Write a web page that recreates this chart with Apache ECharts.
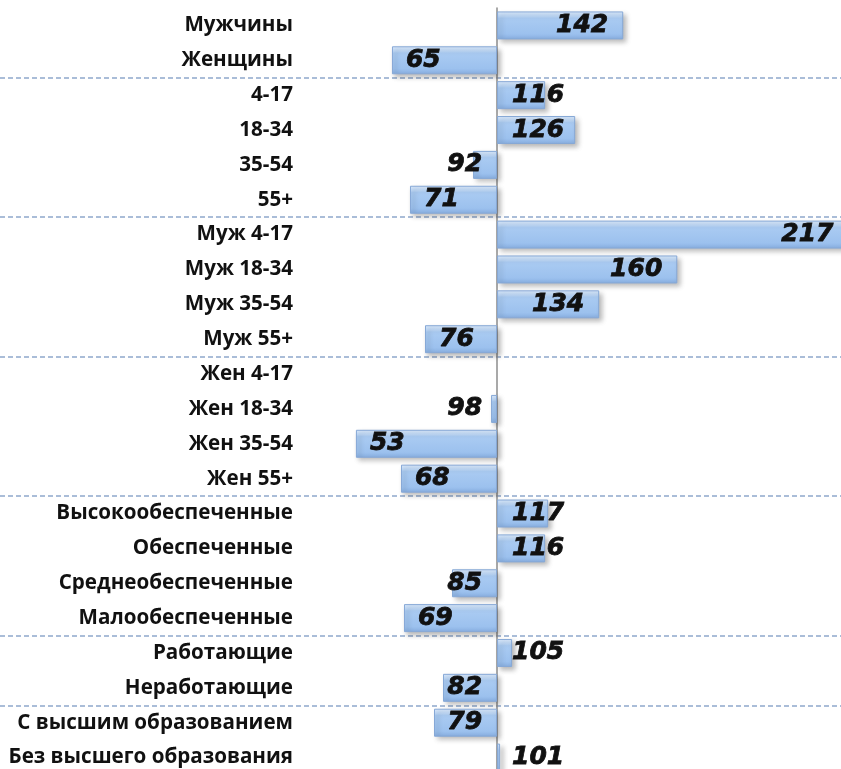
<!DOCTYPE html>
<html><head><meta charset="utf-8">
<script src="https://cdn.jsdelivr.net/npm/echarts@6/dist/echarts.min.js"></script>
<style>html,body{margin:0;padding:0;background:#fff}#c{width:841px;height:769px}</style>
</head><body><div id="c"></div>
<script>
// Groups of categories (separated by dashed lines)
const groupGender = ['Мужчины', 'Женщины'];
const groupAge = ['4-17', '18-34', '35-54', '55+'];
const groupMaleAge = ['Муж 4-17', 'Муж 18-34', 'Муж 35-54', 'Муж 55+'];
const groupFemaleAge = ['Жен 4-17', 'Жен 18-34', 'Жен 35-54', 'Жен 55+'];
const groupIncome = ['Высокообеспеченные', 'Обеспеченные', 'Среднеобеспеченные', 'Малообеспеченные'];
const groupWork = ['Работающие', 'Неработающие'];
const groupEdu = ['С высшим образованием', 'Без высшего образования'];

const valGender = [142, 65];
const valAge = [116, 126, 92, 71];
const valMaleAge = [217, 160, 134, 76];
const valFemaleAge = [null, 98, 53, 68];
const valIncome = [117, 116, 85, 69];
const valWork = [105, 82];
const valEdu = [79, 101];

const baseIndex = 100;

const groups = [groupGender, groupAge, groupMaleAge, groupFemaleAge, groupIncome, groupWork, groupEdu];
const groupValues = [valGender, valAge, valMaleAge, valFemaleAge, valIncome, valWork, valEdu];

const categories = [].concat(...groups);
const values = [].concat(...groupValues);
const separators = [];
let acc = 0;
groups.forEach((g, i) => { if (i > 0) separators.push(acc); acc += g.length; });

const labelFont = {
  fontFamily: 'DejaVu Sans', fontWeight: 'bold', fontStyle: 'italic', fontSize: 25, color: '#111',
  textBorderColor: '#111', textBorderWidth: 0.8, padding: [4, 0, 0, 0]
};

const barData = values.map(v => {
  if (v === null) return { value: null, label: { show: false } };
  const d = v - baseIndex;
  let pos, dist;
  if (d >= 0) { pos = d > 26 ? 'insideRight' : 'insideLeft'; dist = 15; }
  else { pos = d < -21 ? 'insideLeft' : 'insideRight'; dist = d < -21 ? 14 : 15; }
  return { value: d, label: { show: true, position: pos, distance: dist, formatter: String(v) } };
});

const chart = echarts.init(document.getElementById('c'));
chart.setOption({
  animation: false,
  backgroundColor: '#ffffff',
  grid: { left: 0, right: -12, top: 8, bottom: -6, containLabel: false, outerBoundsMode: 'none' },
  xAxis: {
    type: 'value', min: -165.5, max: 118.5,
    axisLabel: { show: false }, axisLine: { show: false }, axisTick: { show: false }, splitLine: { show: false }
  },
  yAxis: {
    type: 'category', inverse: true, data: categories,
    axisTick: { show: false },
    axisLine: { show: true, onZero: true, lineStyle: { color: '#8c8c8c', width: 1.5 } },
    axisLabel: { fontFamily: 'Open Sans', fontWeight: 'bold', fontSize: 20.6, color: '#111', margin: -293, interval: 0, align: 'right', padding: [6, 0, 0, 0] },
    splitLine: {
      show: true,
      interval: (idx) => separators.includes(idx),
      lineStyle: { type: [5, 3], color: '#8fa8cc', width: 1.5 }
    }
  },
  series: [{
    type: 'bar',
    data: barData,
    barWidth: 28,
    itemStyle: {
      color: new echarts.graphic.LinearGradient(0, 0, 0, 1, [
        { offset: 0, color: '#dcebfc' },
        { offset: 0.18, color: '#bcd7f7' },
        { offset: 0.24, color: '#aacbf2' },
        { offset: 0.8, color: '#9cc1ee' },
        { offset: 1, color: '#88aee0' }
      ]),
      borderColor: '#86a8d6', borderWidth: 1,
      shadowColor: 'rgba(0,0,0,0.28)', shadowBlur: 5, shadowOffsetX: 3, shadowOffsetY: 3
    },
    label: Object.assign({ show: true }, labelFont)
  }]
});
</script></body></html>
